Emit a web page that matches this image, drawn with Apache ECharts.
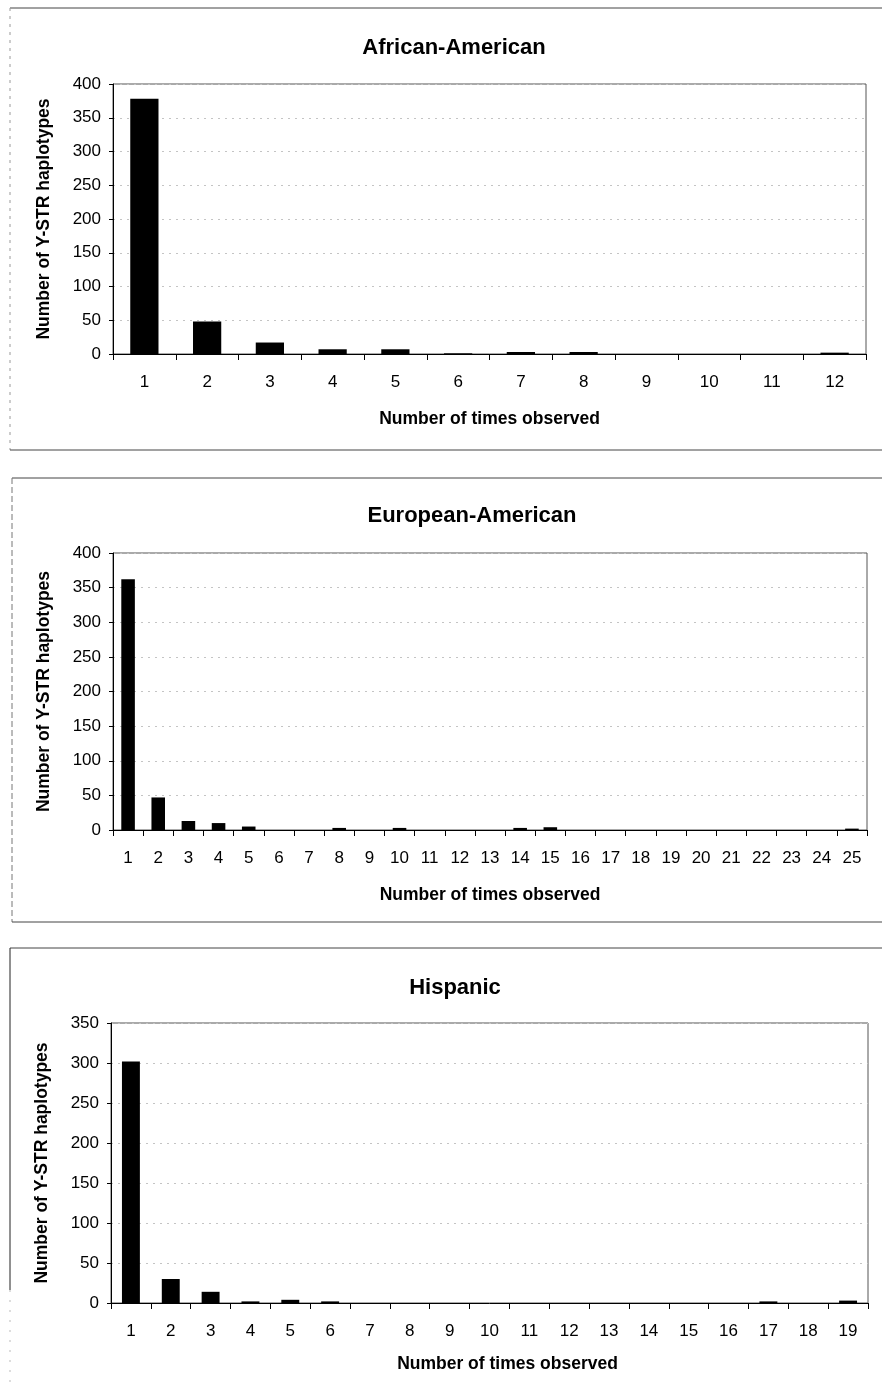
<!DOCTYPE html>
<html>
<head>
<meta charset="utf-8">
<script src="https://cdn.jsdelivr.net/npm/echarts@6/dist/echarts.min.js"></script>
<style>
html,body{margin:0;padding:0;background:#fff;}
#chart{width:882px;height:1389px;}
</style>
</head>
<body>
<div id="chart"></div>
<script>
// ---- data ----
const panelTitles = ['African-American', 'European-American', 'Hispanic'];
const xAxisName = 'Number of times observed';
const yAxisName = 'Number of Y-STR haplotypes';

const aaCategories = ['1','2','3','4','5','6','7','8','9','10','11','12'];
const aaValues = [378, 48, 17, 7, 7, 1, 3, 3, 0, 0, 0, 2];

const eaCategories = ['1','2','3','4','5','6','7','8','9','10','11','12','13','14','15','16','17','18','19','20','21','22','23','24','25'];
const eaValues = [362, 47, 13, 10, 5, 0, 0, 3, 0, 3, 0, 0, 0, 3, 4, 0, 0, 0, 0, 0, 0, 0, 0, 0, 2];

const hiCategories = ['1','2','3','4','5','6','7','8','9','10','11','12','13','14','15','16','17','18','19'];
const hiValues = [302, 30, 14, 2, 4, 2, 0, 0, 0, 0, 0, 0, 0, 0, 0, 0, 2, 0, 3];

const yMax = [400, 400, 350];
const yStep = 50;

// ---- layout ----
const FONT = "'Liberation Sans', Arial, sans-serif";
const grids = [
  {left: 113, top: 84, width: 753, height: 270},
  {left: 113, top: 553, width: 754, height: 277},
  {left: 111, top: 1023, width: 757, height: 280}
];
const titlePos = [[449, 32], [467, 500], [450, 972]];
const xNamePad = [[0,0,0,0],[0,0,0,0],[0,0,0,36]];
const xNameGap = [56, 56, 52];
const cats = [aaCategories, eaCategories, hiCategories];
const vals = [aaValues, eaValues, hiValues];

const chart = echarts.init(document.getElementById('chart'), null, {renderer: 'canvas'});

const option = {
  backgroundColor: '#fff',
  animation: false,
  title: panelTitles.map((t, i) => ({
    text: t,
    left: titlePos[i][0], top: titlePos[i][1],
    textAlign: 'center',
    textStyle: {fontFamily: FONT, fontWeight: 'bold', fontSize: 22, color: '#000'}
  })),
  grid: grids.map(g => Object.assign({show: true, borderColor: '#555', borderWidth: 1, backgroundColor: 'transparent'}, g)),
  xAxis: cats.map((c, i) => ({
    type: 'category', gridIndex: i, data: c,
    name: xAxisName, nameLocation: 'middle', nameGap: xNameGap[i],
    nameTextStyle: {fontFamily: FONT, fontWeight: 'bold', fontSize: 17.5, color: '#000', padding: xNamePad[i]},
    axisLine: {lineStyle: {color: '#000', width: 1}},
    axisTick: {show: true, length: 6, lineStyle: {color: '#000'}},
    axisLabel: {interval: 0, fontFamily: FONT, fontSize: 17, color: '#000', margin: 20},
    splitLine: {show: false}
  })),
  yAxis: yMax.map((m, i) => ({
    type: 'value', gridIndex: i, min: 0, max: m, interval: yStep,
    name: yAxisName, nameLocation: 'middle', nameGap: 60, nameRotate: 90,
    nameTextStyle: {fontFamily: FONT, fontWeight: 'bold', fontSize: 17.5, color: '#000'},
    axisLine: {show: true, lineStyle: {color: '#000', width: 1}},
    axisTick: {show: true, length: 4, lineStyle: {color: '#000'}},
    axisLabel: {fontFamily: FONT, fontSize: 17, color: '#000', margin: 12},
    splitLine: {show: true, lineStyle: {color: '#c4c4c4', type: [2, 5], width: 1}}
  })),
  series: vals.map((v, i) => ({
    type: 'bar', xAxisIndex: i, yAxisIndex: i, data: v,
    barWidth: '45%',
    itemStyle: {color: '#000'},
    silent: true
  })),
  graphic: [
    // panel 1 frame
    {type: 'line', shape: {x1: 10, y1: 8, x2: 882, y2: 8}, style: {stroke: '#444', lineWidth: 1}},
    {type: 'line', shape: {x1: 10, y1: 8, x2: 10, y2: 450}, style: {stroke: '#999', lineWidth: 1, lineDash: [3, 5]}},
    {type: 'line', shape: {x1: 10, y1: 450, x2: 882, y2: 450}, style: {stroke: '#444', lineWidth: 1}},
    // panel 2 frame
    {type: 'line', shape: {x1: 12, y1: 478, x2: 882, y2: 478}, style: {stroke: '#444', lineWidth: 1}},
    {type: 'line', shape: {x1: 12, y1: 478, x2: 12, y2: 922}, style: {stroke: '#777', lineWidth: 1, lineDash: [6, 3]}},
    {type: 'line', shape: {x1: 12, y1: 922, x2: 882, y2: 922}, style: {stroke: '#444', lineWidth: 1}},
    // panel 3 frame
    {type: 'line', shape: {x1: 10, y1: 948, x2: 882, y2: 948}, style: {stroke: '#444', lineWidth: 1}},
    {type: 'line', shape: {x1: 10, y1: 948, x2: 10, y2: 1290}, style: {stroke: '#222', lineWidth: 1}},
    {type: 'line', shape: {x1: 10, y1: 1290, x2: 10, y2: 1389}, style: {stroke: '#bbb', lineWidth: 1, lineDash: [2, 8]}}
  ]
};
chart.setOption(option);
</script>
</body>
</html>
